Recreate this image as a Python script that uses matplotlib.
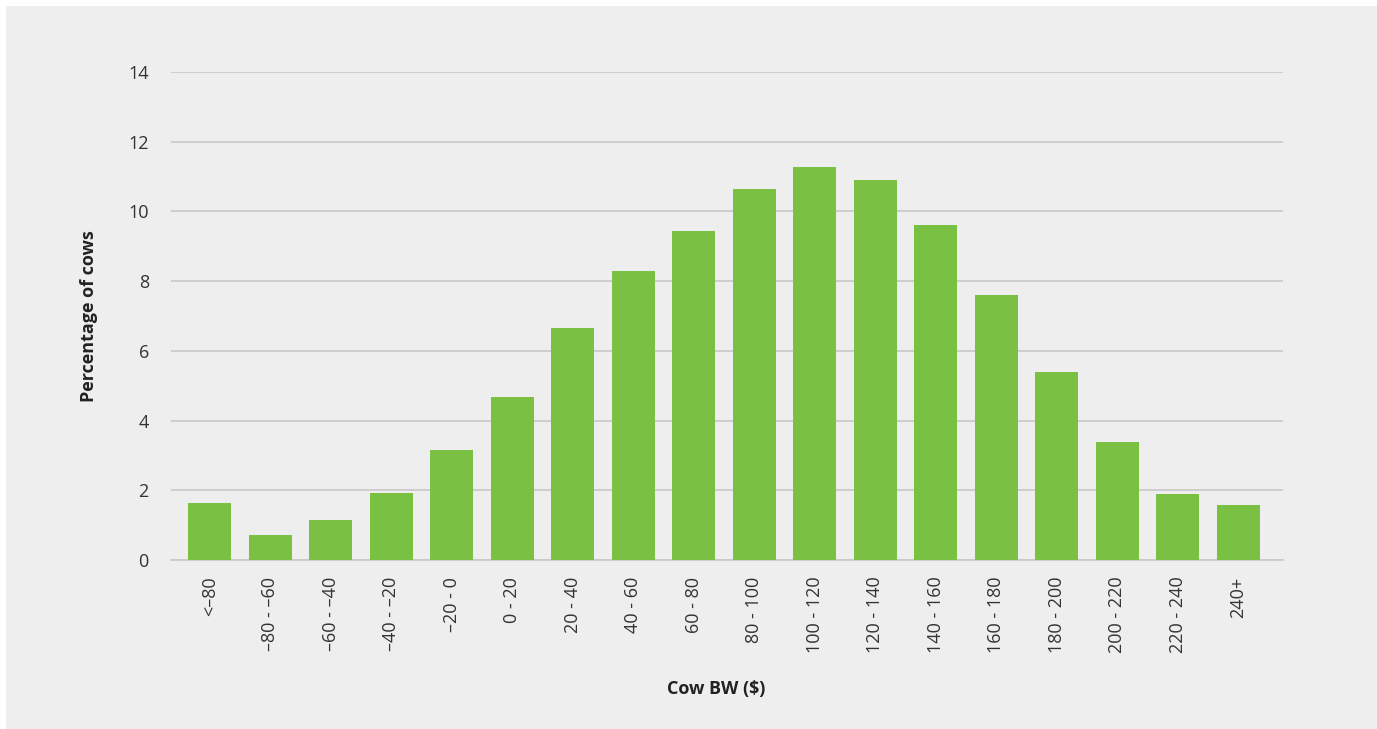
import matplotlib
matplotlib.use("Agg")
import matplotlib.pyplot as plt
from matplotlib.patches import Rectangle

plt.rcParams["font.family"] = ["Open Sans", "DejaVu Sans"]

categories = ["<\u201380", "\u201380 - \u201360", "\u201360 - \u201340", "\u201340 - \u201320",
              "\u201320 - 0", "0 - 20", "20 - 40", "40 - 60", "60 - 80", "80 - 100",
              "100 - 120", "120 - 140", "140 - 160", "160 - 180", "180 - 200",
              "200 - 220", "220 - 240", "240+"]
pct_cows = [1.64, 0.72, 1.15, 1.92, 3.16, 4.68, 6.66, 8.29, 9.44, 10.64,
            11.27, 10.9, 9.61, 7.6, 5.39, 3.39, 1.89, 1.58]
y_ticks = [0, 2, 4, 6, 8, 10, 12, 14]

W, H = 1377, 729
fig = plt.figure(figsize=(W / 100, H / 100), dpi=100, facecolor="white")
# grey panel behind the chart (small white margin top/left)
fig.patches.append(Rectangle((6 / W, 0), 1 - 6 / W, 1 - 6 / H,
                             transform=fig.transFigure, facecolor="#eeeeee",
                             edgecolor="none", zorder=-10))

ax = fig.add_axes([171 / W, 1 - 560 / H, (1283 - 171) / W, (560 - 72) / H])
ax.set_facecolor("none")

x = list(range(len(categories)))
ax.bar(x, pct_cows, width=0.71, color="#7ac143", zorder=3)

ax.set_ylim(0, 14)
ax.set_xlim(-0.64, 17.74)
ax.set_yticks(y_ticks)
ax.set_yticklabels([str(t) for t in y_ticks])
ax.yaxis.grid(True, color="#c8c8c8", linewidth=1.2, zorder=0)
ax.set_axisbelow(True)

ax.set_xticks(x)
ax.set_xticklabels(categories, rotation=90, va="top", ha="center")
ax.tick_params(axis="both", length=0, labelsize=13, colors="#333333")
ax.tick_params(axis="x", pad=12)
ax.tick_params(axis="y", pad=16)

for s in ["top", "right", "left"]:
    ax.spines[s].set_visible(False)
ax.spines["bottom"].set_color("#c8c8c8")
ax.spines["bottom"].set_linewidth(1.2)

ax.set_ylabel("Percentage of cows", fontsize=13, fontweight="bold",
              color="#222222", labelpad=22)
ax.set_xlabel("Cow BW ($)", fontsize=13, fontweight="bold",
              color="#222222", labelpad=22)
# label sits a little left of the axis centre in the original
ax.xaxis.set_label_coords(0.49, -0.245)

fig.savefig("out.png", dpi=100, facecolor=fig.get_facecolor())
